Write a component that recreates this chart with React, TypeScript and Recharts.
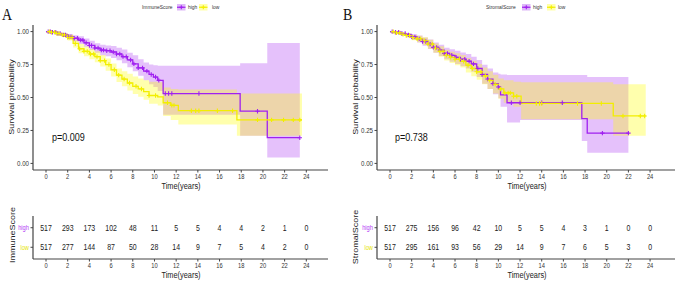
import React from "react";
import { ComposedChart, Line, Area, Scatter, XAxis, YAxis } from "recharts";

// ticks shared by both panels
const timeTicks = [0, 2, 4, 6, 8, 10, 12, 14, 16, 18, 20, 22, 24];
const survTicks = [0, 0.25, 0.5, 0.75, 1];

// Kaplan-Meier estimates [time, survival]
const immuneHighCurve = [
  [0, 1], [0.5, 0.995], [1, 0.985], [1.5, 0.975], [2, 0.962], [2.5, 0.95], [3, 0.935], [3.5, 0.915],
  [4, 0.895], [4.5, 0.875], [5, 0.86], [5.5, 0.855], [6, 0.845], [6.5, 0.83], [7, 0.81], [7.5, 0.785],
  [8, 0.755], [8.5, 0.725], [9, 0.7], [9.5, 0.675], [9.9, 0.655], [10.3, 0.63], [10.8, 0.53],
  [17.9, 0.396], [20.4, 0.195], [23.4, 0.195],
];
const immuneLowCurve = [
  [0, 1], [0.5, 0.995], [1, 0.985], [1.5, 0.975], [2, 0.955], [2.5, 0.91], [3, 0.87], [3.5, 0.85],
  [4, 0.83], [4.5, 0.81], [5, 0.78], [5.5, 0.75], [6, 0.71], [6.5, 0.67], [7, 0.64], [7.5, 0.61],
  [8, 0.585], [8.5, 0.565], [9, 0.545], [9.5, 0.515], [10.3, 0.505], [10.8, 0.46], [11.5, 0.44],
  [12.2, 0.4], [17.6, 0.33], [23.6, 0.33],
];
const stromalHighCurve = [
  [0, 1], [0.5, 0.995], [1, 0.985], [1.5, 0.975], [2, 0.96], [2.5, 0.945], [3, 0.925], [3.5, 0.905],
  [4, 0.88], [4.5, 0.86], [5, 0.835], [5.5, 0.82], [6, 0.805], [6.5, 0.79], [7, 0.775], [7.5, 0.755],
  [8, 0.72], [8.5, 0.675], [9, 0.64], [9.5, 0.605], [10, 0.58], [10.2, 0.52], [10.8, 0.46],
  [17.7, 0.34], [18.2, 0.23], [22, 0.23],
];
const stromalLowCurve = [
  [0, 1], [0.5, 0.99], [1, 0.98], [1.5, 0.97], [2, 0.955], [2.5, 0.945], [3, 0.93], [3.5, 0.905],
  [4, 0.875], [4.5, 0.85], [5, 0.82], [5.5, 0.805], [6, 0.79], [6.5, 0.775], [7, 0.745], [7.5, 0.72],
  [8, 0.695], [8.5, 0.665], [9, 0.63], [9.5, 0.6], [10, 0.565], [10.5, 0.535], [11.4, 0.51],
  [12.1, 0.455], [20.6, 0.36], [23.6, 0.36],
];

// confidence bands [time, lower, upper]
const immuneHighBand = [
  [0, 1, 1], [0.5, 0.99, 1], [1, 0.975, 0.995], [1.5, 0.96, 0.99], [2, 0.945, 0.98], [2.5, 0.925, 0.972],
  [3, 0.905, 0.965], [3.5, 0.885, 0.948], [4, 0.86, 0.93], [4.5, 0.84, 0.912], [5, 0.82, 0.9],
  [5.5, 0.812, 0.895], [6, 0.8, 0.89], [6.5, 0.782, 0.878], [7, 0.76, 0.865], [7.5, 0.73, 0.84],
  [8, 0.7, 0.82], [8.5, 0.665, 0.79], [9, 0.63, 0.765], [9.5, 0.6, 0.75], [9.9, 0.58, 0.745],
  [10.3, 0.55, 0.74], [10.8, 0.37, 0.74], [17.9, 0.21, 0.76], [20.4, 0.045, 0.914], [23.4, 0.045, 0.914],
];
const immuneLowBand = [
  [0, 1, 1], [0.5, 0.985, 1], [1, 0.972, 0.995], [1.5, 0.958, 0.99], [2, 0.932, 0.976], [2.5, 0.88, 0.94],
  [3, 0.835, 0.905], [3.5, 0.812, 0.886], [4, 0.79, 0.868], [4.5, 0.768, 0.85], [5, 0.735, 0.823],
  [5.5, 0.703, 0.795], [6, 0.66, 0.758], [6.5, 0.618, 0.72], [7, 0.585, 0.7], [7.5, 0.553, 0.68],
  [8, 0.527, 0.66], [8.5, 0.505, 0.645], [9, 0.483, 0.63], [9.5, 0.452, 0.62], [10.3, 0.44, 0.615],
  [10.8, 0.36, 0.575], [11.5, 0.33, 0.565], [12.2, 0.295, 0.56], [17.6, 0.21, 0.53], [23.6, 0.21, 0.53],
];
const stromalHighBand = [
  [0, 1, 1], [0.5, 0.985, 1], [1, 0.97, 0.995], [1.5, 0.957, 0.99], [2, 0.938, 0.98], [2.5, 0.918, 0.97],
  [3, 0.893, 0.955], [3.5, 0.868, 0.94], [4, 0.84, 0.918], [4.5, 0.815, 0.9], [5, 0.79, 0.877],
  [5.5, 0.772, 0.866], [6, 0.755, 0.855], [6.5, 0.737, 0.842], [7, 0.72, 0.83], [7.5, 0.695, 0.81],
  [8, 0.655, 0.785], [8.5, 0.605, 0.748], [9, 0.565, 0.72], [9.5, 0.525, 0.69], [10, 0.495, 0.68],
  [10.2, 0.43, 0.675], [10.8, 0.31, 0.67], [12, 0.33, 0.67], [17.7, 0.17, 0.67], [18.2, 0.08, 0.655],
  [22, 0.08, 0.655],
];
const stromalLowBand = [
  [0, 1, 1], [0.5, 0.98, 1], [1, 0.967, 0.993], [1.5, 0.955, 0.985], [2, 0.935, 0.975], [2.5, 0.92, 0.968],
  [3, 0.9, 0.958], [3.5, 0.87, 0.938], [4, 0.84, 0.91], [4.5, 0.81, 0.888], [5, 0.78, 0.862],
  [5.5, 0.762, 0.848], [6, 0.745, 0.835], [6.5, 0.728, 0.822], [7, 0.69, 0.8], [7.5, 0.662, 0.778],
  [8, 0.635, 0.755], [8.5, 0.6, 0.728], [9, 0.565, 0.7], [9.5, 0.53, 0.672], [10, 0.49, 0.645],
  [10.5, 0.46, 0.63], [11.4, 0.43, 0.62], [12.1, 0.335, 0.615], [20.6, 0.21, 0.6], [23.6, 0.21, 0.6],
];

// censoring times
const immuneHighCensor = [
  0.2, 0.4, 0.6, 0.9, 1.1, 1.3, 1.6, 1.8, 2.1, 2.3, 2.6, 2.9, 3.2, 3.4, 3.7, 4.0, 4.2, 4.5, 4.8, 5.1, 5.3,
  5.6, 5.9, 6.2, 6.5, 6.8, 7.1, 7.4, 7.8, 8.1, 8.5, 8.9, 9.3, 9.7, 10.1, 10.4, 11.0, 11.3, 11.6, 14.1, 19.5, 23.4,
];
const immuneLowCensor = [
  0.3, 0.5, 0.8, 1.0, 1.2, 1.5, 1.7, 2.0, 2.2, 2.4, 2.7, 3.1, 3.5, 3.8, 4.1, 4.4, 4.7, 5.0, 5.4, 5.8, 6.3,
  6.7, 7.2, 7.7, 8.3, 8.8, 9.5, 10.1, 11.2, 11.6, 11.8, 13.4, 13.8, 14.1, 15.8, 17.2, 19.5, 20.8, 21.9, 22.8, 23.4,
];
const stromalHighCensor = [
  0.2, 0.5, 0.8, 1.1, 1.4, 1.7, 2.0, 2.3, 2.7, 3.0, 3.3, 3.7, 4.0, 4.3, 4.6, 5.0, 5.3, 5.7, 6.1, 6.5, 6.9,
  7.3, 7.7, 8.1, 8.5, 9.0, 9.5, 10.0, 11.2, 12.0, 14.0, 15.9, 19.6, 22.0,
];
const stromalLowCensor = [
  0.3, 0.6, 0.9, 1.2, 1.5, 1.8, 2.1, 2.5, 2.8, 3.2, 3.5, 3.9, 4.2, 4.6, 4.9, 5.2, 5.6, 6.0, 6.4, 6.8, 7.2,
  7.6, 8.0, 8.4, 8.8, 9.2, 9.7, 10.2, 10.6, 10.9, 11.1, 11.4, 11.7, 13.5, 13.8, 14.0, 17.3, 19.5, 21.5, 23.1, 23.5,
];

// numbers at risk, one per time tick
const immuneHighRisk = [517, 293, 173, 102, 48, 11, 5, 5, 4, 4, 2, 1, 0];
const immuneLowRisk = [517, 277, 144, 87, 50, 28, 14, 9, 7, 5, 4, 2, 0];
const stromalHighRisk = [517, 275, 156, 96, 42, 10, 5, 5, 4, 3, 1, 0, 0];
const stromalLowRisk = [517, 295, 161, 93, 56, 29, 14, 9, 7, 6, 5, 3, 0];

const HIGH = "#A020F0";
const LOW = "#F2EE00";
const AXIS = "#444";
const SANS = "'Liberation Sans', Arial, sans-serif";
const SQUEEZE = 0.82; // the figure is horizontally compressed

const toLine = (pts: number[][]) => pts.map(([t, s]) => ({ t, s }));
const toBand = (pts: number[][]) => pts.map(([t, lo, hi]) => ({ t, band: [lo, hi] }));
const survAt = (curve: number[][], t: number) => {
  let s = curve[0][1];
  for (const [ct, cs] of curve) if (ct <= t) s = cs;
  return s;
};
const toCensor = (curve: number[][], times: number[]) => times.map((t) => ({ t, s: survAt(curve, t) }));

// text squeezed horizontally like the source image
function NText({
  x, y, size, anchor = "start", fill = "#222", dy, rotate, family = SANS, children,
}: {
  x: number; y: number; size: number; anchor?: string; fill?: string; dy?: string; rotate?: boolean;
  family?: string; children: React.ReactNode;
}) {
  const tr = `translate(${x},${y}) scale(${SQUEEZE},1)${rotate ? " rotate(-90)" : ""}`;
  return (
    <text transform={tr} x={0} y={0} dy={dy} fontSize={size} fontFamily={family} textAnchor={anchor as any} fill={fill}>
      {children}
    </text>
  );
}

const xTick = (props: any) => (
  <NText x={props.x} y={props.y} dy="0.71em" size={7} anchor="middle" fill="#333">
    {props.payload.value}
  </NText>
);
const yTick = (props: any) => (
  <NText x={props.x} y={props.y} dy="0.35em" size={7.5} anchor="end" fill="#333">
    {Number(props.payload.value).toFixed(2)}
  </NText>
);
const riskTick = (props: any) => {
  const isHigh = props.payload.value === 1;
  return (
    <NText x={props.x} y={props.y} dy="0.35em" size={7} anchor="end" fill={isHigh ? "#B43CF5" : "#E6E600"}>
      {isHigh ? "high" : "low"}
    </NText>
  );
};

const plusShape = (color: string) => (props: any) => {
  const { cx, cy } = props;
  if (cx == null || cy == null) return <g />;
  return (
    <path
      d={`M${cx - 2.2},${cy}H${cx + 2.2}M${cx},${cy - 2.2}V${cy + 2.2}`}
      stroke={color}
      strokeWidth={1.1}
      fill="none"
    />
  );
};

const countShape = (props: any) => (
  <NText x={props.cx} y={props.cy} dy="0.35em" size={8.5} anchor="middle" fill="#222">
    {props.payload.n}
  </NText>
);

const axisProps = {
  stroke: AXIS,
  tickSize: 2.5,
  tickMargin: 1.5,
  tickLine: { stroke: AXIS },
  axisLine: { stroke: AXIS, strokeWidth: 1.2 },
};

interface KMProps {
  left: number;
  width: number;
  yWidth: number;
  right: number;
  xMax: number;
  highCurve: number[][];
  lowCurve: number[][];
  highBand: number[][];
  lowBand: number[][];
  highCensor: number[];
  lowCensor: number[];
}

function KMPanel(p: KMProps) {
  return (
    <div style={{ position: "absolute", left: p.left, top: 0 }}>
      <ComposedChart width={p.width} height={196} margin={{ top: 25, right: p.right, bottom: 0, left: 0 }}>
        <XAxis
          type="number"
          dataKey="t"
          domain={[-1.2, p.xMax]}
          ticks={timeTicks}
          interval={0}
          allowDataOverflow
          height={26}
          tick={xTick}
          {...axisProps}
        />
        <YAxis
          type="number"
          dataKey="s"
          domain={[-0.05, 1.05]}
          ticks={survTicks}
          interval={0}
          allowDataOverflow
          width={p.yWidth}
          tick={yTick}
          {...axisProps}
        />
        <Area data={toBand(p.highBand)} dataKey="band" type="stepAfter" stroke="none" fill={HIGH} fillOpacity={0.28} isAnimationActive={false} />
        <Area data={toBand(p.lowBand)} dataKey="band" type="stepAfter" stroke="none" fill="#FFFF00" fillOpacity={0.32} isAnimationActive={false} />
        <Line data={toLine(p.highCurve)} dataKey="s" type="stepAfter" stroke={HIGH} strokeWidth={1.3} dot={false} isAnimationActive={false} />
        <Line data={toLine(p.lowCurve)} dataKey="s" type="stepAfter" stroke={LOW} strokeWidth={1.3} dot={false} isAnimationActive={false} />
        <Scatter data={toCensor(p.highCurve, p.highCensor)} shape={plusShape(HIGH)} isAnimationActive={false} />
        <Scatter data={toCensor(p.lowCurve, p.lowCensor)} shape={plusShape(LOW)} isAnimationActive={false} />
      </ComposedChart>
    </div>
  );
}

interface RiskProps {
  left: number;
  width: number;
  yWidth: number;
  right: number;
  xMax: number;
  high: number[];
  low: number[];
}

function RiskTable(p: RiskProps) {
  const rows = [
    ...p.high.map((n, i) => ({ t: timeTicks[i], y: 1, n })),
    ...p.low.map((n, i) => ({ t: timeTicks[i], y: 0, n })),
  ];
  return (
    <div style={{ position: "absolute", left: p.left, top: 200 }}>
      <ComposedChart width={p.width} height={83} margin={{ top: 16, right: p.right, bottom: 0, left: 0 }}>
        <XAxis
          type="number"
          dataKey="t"
          domain={[-1.2, p.xMax]}
          ticks={timeTicks}
          interval={0}
          allowDataOverflow
          height={24}
          tick={xTick}
          {...axisProps}
        />
        <YAxis
          type="number"
          dataKey="y"
          domain={[-0.6, 1.6]}
          ticks={[0, 1]}
          interval={0}
          width={p.yWidth}
          tick={riskTick}
          {...axisProps}
        />
        <Scatter data={rows} shape={countShape} isAnimationActive={false} />
      </ComposedChart>
    </div>
  );
}

function LegendKey({ x, color, fill }: { x: number; color: string; fill: string }) {
  return (
    <g>
      <rect x={x} y={4} width={8.5} height={6.5} fill={fill} />
      <line x1={x} x2={x + 8.5} y1={7.25} y2={7.25} stroke={color} strokeWidth={1.2} />
      <path d={`M${x + 2.3},7.25H${x + 6.3}M${x + 4.3},5.25V9.25`} stroke={color} strokeWidth={1.1} />
    </g>
  );
}

function Overlay() {
  return (
    <svg width={676} height={283} style={{ position: "absolute", left: 0, top: 0, pointerEvents: "none" }}>
      <NText x={2} y={20} size={17} family="'Liberation Serif', serif" fill="#111">A</NText>
      <NText x={343} y={20} size={17} family="'Liberation Serif', serif" fill="#111">B</NText>

      <NText x={142} y={9.3} size={6} fill="#333">ImmuneScore</NText>
      <LegendKey x={177} color={HIGH} fill="#DDB8F8" />
      <NText x={188} y={9.3} size={6} fill="#333">high</NText>
      <LegendKey x={199} color={LOW} fill="#FFFFAA" />
      <NText x={212} y={9.3} size={6} fill="#333">low</NText>

      <NText x={486} y={9.3} size={6} fill="#333">StromalScore</NText>
      <LegendKey x={522} color={HIGH} fill="#DDB8F8" />
      <NText x={533} y={9.3} size={6} fill="#333">high</NText>
      <LegendKey x={547} color={LOW} fill="#FFFFAA" />
      <NText x={558} y={9.3} size={6} fill="#333">low</NText>

      <NText x={11.5} y={97} dy="0.35em" size={9} anchor="middle" rotate>Survival probability</NText>
      <NText x={355.5} y={97} dy="0.35em" size={9} anchor="middle" rotate>Survival probability</NText>

      <NText x={181} y={189} size={9} anchor="middle">Time(years)</NText>
      <NText x={527} y={189} size={9} anchor="middle">Time(years)</NText>

      <NText x={52} y={141} size={11} fill="#111">p=0.009</NText>
      <NText x={395} y={141} size={11} fill="#111">p=0.738</NText>

      <NText x={12} y={235} dy="0.35em" size={9} anchor="middle" rotate>ImmuneScore</NText>
      <NText x={355.5} y={237} dy="0.35em" size={9} anchor="middle" rotate>StromalScore</NText>

      <NText x={181} y={278} size={9} anchor="middle">Time(years)</NText>
      <NText x={527} y={278} size={9} anchor="middle">Time(years)</NText>
    </svg>
  );
}

export default function App() {
  return (
    <div style={{ position: "absolute", left: 0, top: 0, width: 676, height: 283, background: "#fff", overflow: "hidden" }}>
      <KMPanel
        left={0}
        width={340}
        yWidth={33}
        right={12}
        xMax={26}
        highCurve={immuneHighCurve}
        lowCurve={immuneLowCurve}
        highBand={immuneHighBand}
        lowBand={immuneLowBand}
        highCensor={immuneHighCensor}
        lowCensor={immuneLowCensor}
      />
      <KMPanel
        left={340}
        width={336}
        yWidth={37}
        right={1}
        xMax={26.3}
        highCurve={stromalHighCurve}
        lowCurve={stromalLowCurve}
        highBand={stromalHighBand}
        lowBand={stromalLowBand}
        highCensor={stromalHighCensor}
        lowCensor={stromalLowCensor}
      />
      <RiskTable left={0} width={340} yWidth={33} right={12} xMax={26} high={immuneHighRisk} low={immuneLowRisk} />
      <RiskTable left={340} width={336} yWidth={37} right={1} xMax={26.3} high={stromalHighRisk} low={stromalLowRisk} />
      <Overlay />
    </div>
  );
}
